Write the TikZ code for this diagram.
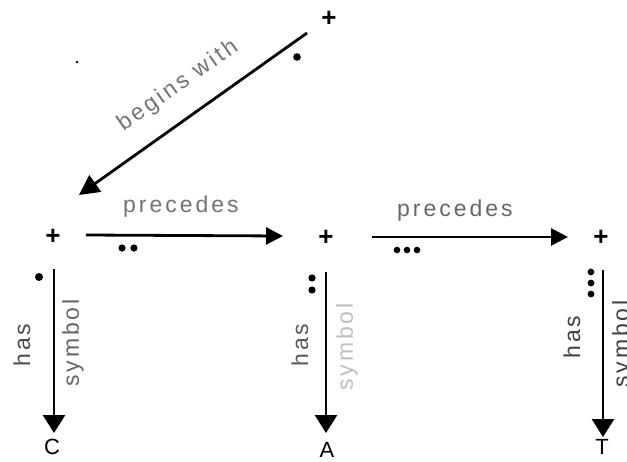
\documentclass[tikz,border=0pt]{standalone}
\usepackage{fontspec}
\setmainfont{Liberation Sans}
\usetikzlibrary{arrows.meta}
\begin{document}
\begin{tikzpicture}[x=1pt,y=-1pt,
  lbl/.style={font=\fontsize{23}{23}\selectfont\addfontfeature{LetterSpace=13}, inner sep=0pt},
  plus/.style={font=\fontsize{26}{26}\selectfont\bfseries, inner sep=0pt},
  letter/.style={font=\fontsize{22}{22}\selectfont, inner sep=0pt},
  harr/.style={line width=2.8pt, -{Triangle[length=17pt,width=17pt]}},
  varr/.style={line width=2.8pt, -{Triangle[length=18pt,width=22pt]}},
  darr/.style={line width=2.8pt, -{Triangle[length=20pt,width=20pt]}},
  dot/.style={fill=black}
]
\useasboundingbox (0,0) rectangle (627,461);
\clip (0,0) rectangle (627,461);
% nodes
\node[plus] (t0) at (329,19) {+};
\node[plus] (p1) at (53,237) {+};
\node[plus] (p2) at (326,238) {+};
\node[plus] (p3) at (601,238) {+};
\node[letter] (c) at (52,447) {C};
\node[letter] (a) at (327,450) {A};
\node[letter] (t) at (602,447) {T};
% connector ends
\coordinate (bws) at (307,33);
\coordinate (bwe) at (79,195);
\coordinate (pr1s) at (86,235);
\coordinate (pr1e) at (283,236);
\coordinate (pr2s) at (372,237);
\coordinate (pr2e) at (568,237);
\coordinate (v1s) at (54,269);
\coordinate (v1e) at (54,433);
\coordinate (v2s) at (326,272);
\coordinate (v2e) at (326,433);
\coordinate (v3s) at (603,270);
\coordinate (v3e) at (603,437);
% connectors
\draw[darr] (bws) -- (bwe);
\draw[harr] (pr1s) -- (pr1e);
\draw[harr] (pr2s) -- (pr2e);
\draw[varr] (v1s) -- (v1e);
\draw[varr] (v2s) -- (v2e);
\draw[varr] (v3s) -- (v3e);
% labels
\node[lbl, text=black!55, rotate=35.4] (lbw) at (178,86) {begins with};
\node[lbl, text=black!55] (lp1) at (181,207) {precedes};
\node[lbl, text=black!60] (lp2) at (455,211) {precedes};
\node[lbl, text=black!70, rotate=90] (lh1) at (22,345) {has};
\node[lbl, text=black!60, rotate=90] (ls1) at (73,343) {symbol};
\node[lbl, text=black!65, rotate=90] (lh2) at (300,345) {has};
\node[lbl, text=black!25, rotate=90] (ls2) at (347,347) {symbol};
\node[lbl, text=black!75, rotate=90] (lh3) at (572,337) {has};
\node[lbl, text=black!75, rotate=90] (ls3) at (623,344) {symbol};
% dots
\fill[dot] (297,57) circle[radius=3.8pt];
\fill[dot] (77,62) circle[radius=1.3pt];
\fill[dot] (39,277) circle[radius=4pt];
\fill[dot] (122,248) circle[radius=3.6pt];
\fill[dot] (134,248) circle[radius=3.6pt];
\fill[dot] (397,250) circle[radius=3.3pt];
\fill[dot] (407,250) circle[radius=3.3pt];
\fill[dot] (417,250) circle[radius=3.3pt];
\fill[dot] (312,278) circle[radius=3.6pt];
\fill[dot] (312,290) circle[radius=3.6pt];
\fill[dot] (591,272) circle[radius=3.4pt];
\fill[dot] (591,283) circle[radius=3.4pt];
\fill[dot] (591,294) circle[radius=3.4pt];
\end{tikzpicture}
\end{document}
